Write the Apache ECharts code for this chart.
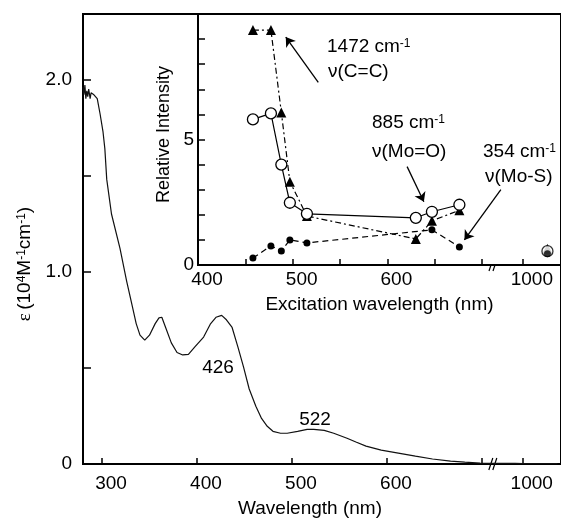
<!DOCTYPE html>
<html>
<head>
<meta charset="utf-8">
<title>Absorption spectrum and excitation profile</title>
<script src="https://cdn.jsdelivr.net/npm/echarts@6/dist/echarts.min.js"></script>
<style>
  * { margin: 0; padding: 0; }
  body { background: #fff; }
  #main { width: 561px; height: 523px; }
</style>
</head>
<body>
<div id="main"></div>
<script>
// absorption spectrum, wavelength (nm) / epsilon (10^4 M-1 cm-1)
var absWavelength = [280, 281, 282, 283, 284, 285, 286, 287.5, 288.5, 289.5,
  291.5, 293.5, 295, 298, 301, 303, 305, 310, 319, 326,
  331, 336, 340, 345, 350, 356, 360, 363, 367, 373,
  379, 385, 391, 398, 407, 414, 420, 426, 431, 437,
  443, 449, 455, 462, 468, 474, 480, 488, 495, 506,
  516, 523, 534, 544, 558, 568, 578, 594, 612, 630,
  648, 667, 682, 698, 710, 980, 1000, 1050, 1090];
var absEpsilon = [1.96, 1.92, 1.97, 1.90, 1.94, 1.91, 1.95, 1.90, 1.93, 1.92,
  1.92, 1.91, 1.90, 1.82, 1.73, 1.64, 1.48, 1.30, 1.12, 0.95,
  0.84, 0.73, 0.67, 0.644, 0.67, 0.73, 0.76, 0.763, 0.71, 0.63,
  0.58, 0.567, 0.57, 0.61, 0.66, 0.727, 0.763, 0.773, 0.75, 0.71,
  0.61, 0.505, 0.39, 0.30, 0.237, 0.196, 0.17, 0.16, 0.16, 0.17,
  0.18, 0.18, 0.175, 0.16, 0.134, 0.113, 0.093, 0.072, 0.057, 0.041,
  0.026, 0.015, 0.01, 0.005, 0.003, 0.003, 0.002, 0.002, 0.002];

// resonance Raman excitation profile (inset)
var excWavelength = [458, 477, 488, 497, 515, 630, 647, 676, 1064];
var intensityCC  = [9.36, 9.36, 6.08, 3.32, 1.95, 1.04, 1.76, 2.18, 0.65];  // 1472 cm-1
var intensityMoO = [5.8, 6.04, 4.0, 2.48, 2.04, 1.88, 2.12, 2.4, 0.55];     // 885 cm-1
var intensityMoS = [0.28, 0.76, 0.56, 1.0, 0.88, null, 1.4, 0.72, 0.45];    // 354 cm-1

// ticks and labels
var mainXTicks = [300, 400, 500, 600, 700, 1000];
var mainXLabels = [300, 400, 500, 600, 1000];
var epsTicks = [0, 0.5, 1, 1.5, 2];
var epsLabels = [0, 1, 2];
var insetXTicks = [400, 450, 500, 550, 600, 650, 700, 1000];
var insetXLabels = [400, 500, 600, 1000];
var intensityTicks = [0, 1, 2, 3, 4, 5, 6, 7, 8, 9, 10];
var intensityLabels = [0, 5];

// broken wavelength axis: linear up to ~711 nm, compressed from 1000 nm on
function brk(x) { return x <= 800 ? x : 743 + (x - 1000) * 0.406; }
function unbrk(u) { return u <= 720 ? u : 1000 + (u - 743) / 0.406; }

var FONT = 'Liberation Sans';
var chart = echarts.init(document.getElementById('main'));

function pairs(xs, ys, from, to) {
  var out = [];
  for (var i = from; i < to; i++) {
    if (ys[i] == null) continue;
    out.push([brk(xs[i]), ys[i]]);
  }
  return out;
}

var nLine = excWavelength.length - 1;   // last point (1064 nm) is not joined

var ccStyle = { symbol: 'triangle', symbolSize: 10, itemStyle: { color: '#000' } };
var moOStyle = { symbol: 'circle', symbolSize: 11, itemStyle: { color: '#fff', borderColor: '#000', borderWidth: 1.3 } };
var moSStyle = { symbol: 'circle', symbolSize: 7, itemStyle: { color: '#000' } };

function insetSeries(base, extra) {
  var s = { xAxisIndex: 1, yAxisIndex: 1, z: 5, animation: false, silent: true };
  Object.keys(base).forEach(function (k) { s[k] = base[k]; });
  Object.keys(extra).forEach(function (k) { s[k] = extra[k]; });
  return s;
}

var arrowStyle = { color: '#000', width: 1.3, type: 'solid' };

var option = {
  animation: false,
  textStyle: { fontFamily: FONT, color: '#000' },
  grid: [
    { left: 83, top: 14, right: -5, bottom: 55, show: true, borderColor: '#000', borderWidth: 2, backgroundColor: 'transparent' },
    { left: 198, top: 14, right: -5, bottom: 258, show: true, borderColor: '#000', borderWidth: 2, backgroundColor: '#fff', z: 3 }
  ],
  xAxis: [
    {
      type: 'value', gridIndex: 0, min: 280, max: 783.3,
      axisLine: { lineStyle: { color: '#000', width: 2 } },
      axisTick: { inside: true, length: 6, customValues: mainXTicks.map(brk), lineStyle: { color: '#000', width: 1.5 } },
      axisLabel: {
        customValues: mainXLabels.map(brk),
        formatter: function (v) { return String(Math.round(unbrk(v))); },
        fontSize: 19, color: '#000', margin: 10, padding: [0, 0, 0, 18], fontFamily: FONT
      },
      splitLine: { show: false },
      name: 'Wavelength (nm)', nameLocation: 'middle', nameGap: 35,
      nameTextStyle: { fontSize: 19, color: '#000', fontFamily: FONT, padding: [0, 24, 0, 0] }
    },
    {
      type: 'value', gridIndex: 1, min: 400, max: 783.3, z: 4,
      axisLine: { lineStyle: { color: '#000', width: 2 } },
      axisTick: { inside: true, length: 6, customValues: insetXTicks.map(brk), lineStyle: { color: '#000', width: 1.5 } },
      axisLabel: {
        customValues: insetXLabels.map(brk),
        formatter: function (v) { return String(Math.round(unbrk(v))); },
        fontSize: 19, color: '#000', margin: 5, padding: [0, 0, 0, 18], fontFamily: FONT
      },
      splitLine: { show: false },
      name: 'Excitation wavelength (nm)', nameLocation: 'middle', nameGap: 30,
      nameTextStyle: { fontSize: 19, color: '#000', fontFamily: FONT }
    }
  ],
  yAxis: [
    {
      type: 'value', gridIndex: 0, min: 0, max: 2.34,
      axisLine: { lineStyle: { color: '#000', width: 2 } },
      axisTick: { inside: true, length: 8, customValues: epsTicks, lineStyle: { color: '#000', width: 1.5 } },
      axisLabel: {
        customValues: epsLabels,
        formatter: function (v) { return v === 0 ? '0' : v.toFixed(1); },
        fontSize: 19, color: '#000', margin: 11, fontFamily: FONT
      },
      splitLine: { show: false },
      name: '{e|ε} {n|(10}{s|4}{n|M}{s|-1}{n|cm}{s|-1}{n|)}',
      nameLocation: 'middle', nameGap: 46, nameRotate: 90,
      nameTextStyle: {
        color: '#000',
        padding: [0, 50, 0, 0],
        rich: {
          e: { fontSize: 19, fontFamily: 'Liberation Serif', color: '#000' },
          n: { fontSize: 19, fontFamily: FONT, color: '#000' },
          s: { fontSize: 12, fontFamily: FONT, color: '#000', verticalAlign: 'top' }
        }
      }
    },
    {
      type: 'value', gridIndex: 1, min: 0, max: 10, z: 4,
      axisLine: { lineStyle: { color: '#000', width: 2 } },
      axisTick: { inside: true, length: 7, customValues: intensityTicks, lineStyle: { color: '#000', width: 1.5 } },
      axisLabel: { customValues: intensityLabels, fontSize: 19, color: '#000', margin: 4, fontFamily: FONT },
      splitLine: { show: false },
      name: 'Relative Intensity', nameLocation: 'middle', nameGap: 23, nameRotate: 90,
      nameTextStyle: { fontSize: 18, color: '#000', fontFamily: FONT, padding: [0, 0, 0, 10] }
    }
  ],
  series: [
    {
      type: 'line', xAxisIndex: 0, yAxisIndex: 0, z: 2, silent: true,
      symbol: 'none',
      lineStyle: { color: '#111', width: 1.2 },
      data: pairs(absWavelength, absEpsilon, 0, absWavelength.length)
    },
    insetSeries(ccStyle, {
      type: 'line',
      lineStyle: { color: '#000', width: 1.2, type: [6, 3, 2, 3] },
      data: pairs(excWavelength, intensityCC, 0, nLine),
      markLine: {
        silent: true, symbol: ['none', 'arrow'], symbolSize: 9,
        label: { show: false }, lineStyle: arrowStyle,
        data: [
          [{ coord: [527, 7.28] }, { coord: [492.7, 9.08] }],
          [{ coord: [620.8, 3.92] }, { coord: [638.5, 2.52] }],
          [{ coord: [719.8, 3.0] }, { coord: [681.3, 1.0] }]
        ]
      }
    }),
    insetSeries(moOStyle, {
      type: 'line',
      lineStyle: { color: '#000', width: 1.2 },
      data: pairs(excWavelength, intensityMoO, 0, nLine)
    }),
    insetSeries(moSStyle, {
      type: 'line',
      lineStyle: { color: '#000', width: 1.2, type: [6, 4] },
      data: pairs(excWavelength, intensityMoS, 0, nLine)
    }),
    insetSeries(ccStyle, { type: 'scatter', data: pairs(excWavelength, intensityCC, nLine, nLine + 1) }),
    insetSeries(moOStyle, { type: 'scatter', data: pairs(excWavelength, intensityMoO, nLine, nLine + 1) }),
    insetSeries(moSStyle, { type: 'scatter', data: pairs(excWavelength, intensityMoS, nLine, nLine + 1) })
  ]
};

chart.setOption(option);

// text annotations and axis-break marks
function label(x, y, parts, align) {
  return {
    type: 'text', z: 20, silent: true,
    x: x, y: y,
    style: {
      text: parts, align: align || 'left', verticalAlign: 'middle',
      rich: {
        n: { fontSize: 19, fontFamily: FONT, fill: '#000' },
        s: { fontSize: 12, fontFamily: FONT, fill: '#000', verticalAlign: 'top' }
      }
    }
  };
}

function breakMark(gridIndex, yVal) {
  var p = chart.convertToPixel({ gridIndex: gridIndex }, [711.5, yVal]);
  return {
    type: 'group', x: p[0], y: p[1], z: 20, silent: true,
    children: [
      { type: 'rect', shape: { x: -3, y: -2, width: 6, height: 4 }, style: { fill: '#fff' } },
      { type: 'line', shape: { x1: -4, y1: 6, x2: 0, y2: -6 }, style: { stroke: '#000', lineWidth: 1.2 } },
      { type: 'line', shape: { x1: 0, y1: 6, x2: 4, y2: -6 }, style: { stroke: '#000', lineWidth: 1.2 } }
    ]
  };
}

chart.setOption({
  graphic: [
    label(327, 47, '{n|1472 cm}{s|-1}'),
    label(328, 72, '{n|ν(C=C)}'),
    label(372, 123, '{n|885 cm}{s|-1}'),
    label(372, 152, '{n|ν(Mo=O)}'),
    label(483, 152, '{n|354 cm}{s|-1}'),
    label(485, 177, '{n|ν(Mo-S)}'),
    label(218, 368, '{n|426}', 'center'),
    label(315, 420, '{n|522}', 'center'),
    breakMark(0, 0),
    breakMark(1, 0)
  ]
});
</script>
</body>
</html>
